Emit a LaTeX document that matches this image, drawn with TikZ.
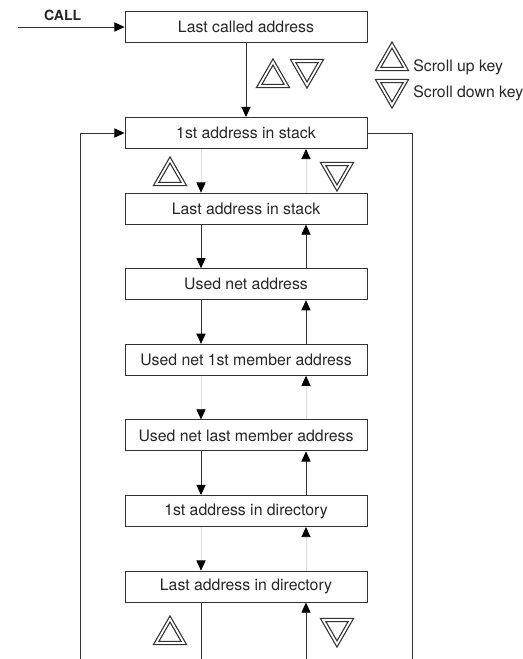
\documentclass[tikz,border=0pt]{standalone}
\usepackage{fontspec}
\setmainfont{TeX Gyre Heros}
\usetikzlibrary{arrows.meta,positioning,shapes.geometric}

\begin{document}
\begin{tikzpicture}[>={Triangle[width=5.2pt,length=5.8pt,color=black]},
    line width=0.5pt, draw=black!80, text=black!85, node distance=1.512cm,
    font=\fontsize{9}{11}\selectfont,
    box/.style={draw, minimum width=4.84cm, minimum height=0.62cm, inner sep=0pt},
    upkey/.style={draw, line width=0.7pt, double, double distance=1pt, regular polygon,
      regular polygon sides=3, minimum size=0.64cm, inner sep=0pt},
    downkey/.style={upkey, shape border rotate=180},
    faint/.style={draw=black!12}]
    \useasboundingbox (0,0) rectangle (10.46,-13.18);
    \coordinate (xl)  at (4.02,0);
    \coordinate (xr)  at (6.12,0);
    \coordinate (xll) at (1.6,-13.18);
    \coordinate (xrr) at (8.24,-13.18);
    \coordinate (in)  at (0.36,-0.54);

    \node[box] (called) at (4.92,-0.54) {Last called address};
    \node[box] (stack1) [below of=called, node distance=2.12cm] {1st address in stack};
    \node[box] (stackn) [below of=stack1] {Last address in stack};
    \node[box] (net)    [below of=stackn] {Used net address};
    \node[box] (mem1)   [below of=net]    {Used net 1st member address};
    \node[box] (memn)   [below of=mem1]   {Used net last member address};
    \node[box] (dir1)   [below of=memn]   {1st address in directory};
    \node[box] (dirn)   [below of=dir1]   {Last address in directory};

    % scroll keys
    \node[upkey]   (up0)   at (5.46,-1.56)  {};
    \node[downkey] (dn0)   at (6.14,-1.38)  {};
    \node[upkey]   (keyup) at (7.84,-1.22)  {};
    \node[downkey] (keydn) at (7.84,-1.78)  {};
    \node[upkey]   (up1)   at (3.4,-3.52)   {};
    \node[downkey] (dn1)   at (6.74,-3.44)  {};
    \node[upkey]   (up2)   at (3.4,-12.7)   {};
    \node[downkey] (dn2)   at (6.74,-12.56) {};
    \node[anchor=west] (uptext) at (8.14,-1.34) {Scroll up key};
    \node[anchor=west] (dntext) at (8.14,-1.86) {Scroll down key};

    \path[->]
    (in) edge node[above, pos=0.42, font=\fontsize{8}{10}\selectfont\bfseries] {CALL} (called)
    (called) edge (stack1)
    (stack1.south -| xl) edge[faint] (stackn.north -| xl)
    (stackn.north -| xr) edge[faint] (stack1.south -| xr)
    (stackn.south -| xl) edge (net.north -| xl)
    (net.north -| xr)    edge (stackn.south -| xr)
    (net.south -| xl)    edge (mem1.north -| xl)
    (mem1.north -| xr)   edge (net.south -| xr)
    (mem1.south -| xl)   edge[faint] (memn.north -| xl)
    (memn.north -| xr)   edge[faint] (mem1.south -| xr)
    (memn.south -| xl)   edge (dir1.north -| xl)
    (dir1.north -| xr)   edge (memn.south -| xr)
    (dir1.south -| xl)   edge[faint] (dirn.north -| xl)
    (dirn.north -| xr)   edge[faint] (dir1.south -| xr)
    (xrr -| xr)          edge (dirn.south -| xr)
    ;
    \draw (dirn.south -| xl) -- (xll -| xl);
    \draw[->] (xll) |- (stack1.west);
    \draw (stack1.east) -| (xrr);
\end{tikzpicture}
\end{document}
